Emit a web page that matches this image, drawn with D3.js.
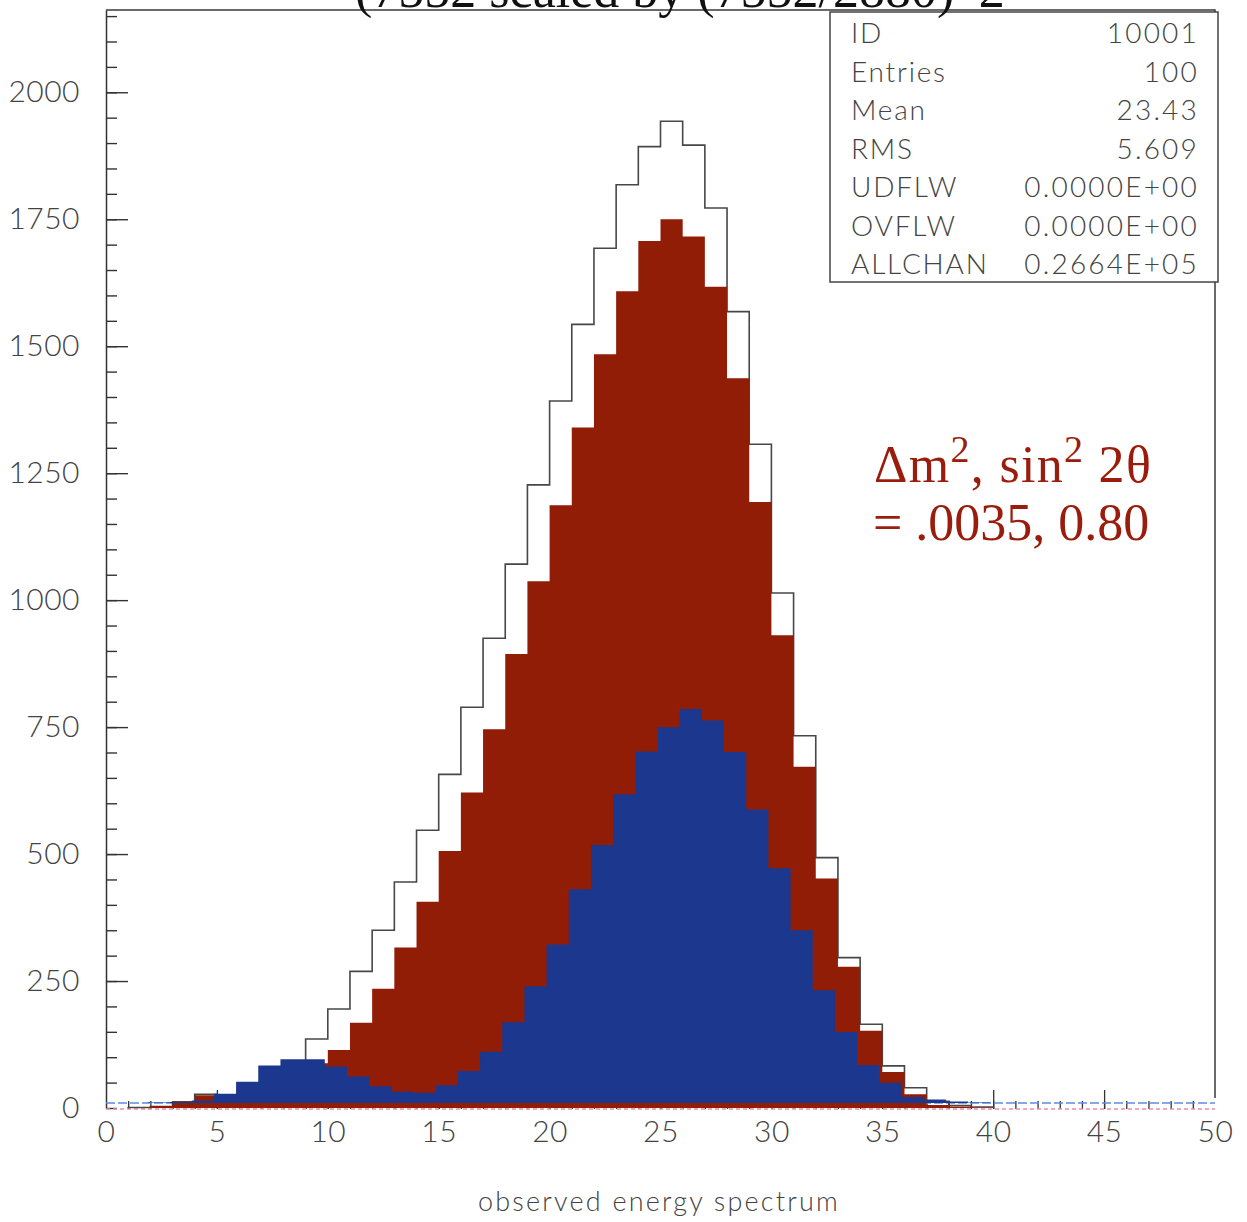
<!DOCTYPE html>
<html>
<head>
<meta charset="utf-8">
<script src="https://cdn.jsdelivr.net/npm/d3@7"></script>
<style>
  body { margin: 0; background: #fff; }
  svg { display: block; }
</style>
</head>
<body>
<script>
// bin i covers [i, i+1) of the observed energy
const binStarts = d3.range(0, 50)

const noOscCounts = [0, 1, 3, 12, 27, 25, 40, 60, 88, 136,
  195, 269, 350, 445, 547, 657, 789, 925, 1071, 1227,
  1392, 1543, 1693, 1818, 1893, 1943, 1896, 1772, 1568, 1307,
  1014, 733, 493, 296, 165, 83, 40, 13, 5, 2,
  0, 0, 0, 0, 0, 0, 0, 0, 0, 0]

const redCounts = [0, 0, 4, 11, 25, 26, 40, 55, 70, 88,
  114, 168, 235, 316, 406, 506, 621, 746, 894, 1037,
  1187, 1340, 1484, 1608, 1707, 1750, 1716, 1617, 1437, 1193,
  931, 672, 452, 278, 152, 71, 27, 6, 3, 1,
  0, 0, 0, 0, 0, 0, 0, 0, 0, 0]

const blueCounts = [0, 0, 1, 2, 5, 18, 42, 74, 86, 86,
  72, 52, 33, 22, 20, 35, 63, 101, 159, 230,
  312, 421, 508, 608, 692, 740, 776, 753, 691, 578,
  462, 340, 222, 140, 75, 40, 12, 7, 3, 1,
  0, 0, 0, 0, 0, 0, 0, 0, 0, 0]

const yTicks = [0, 250, 500, 750, 1000, 1250, 1500, 1750, 2000]
const xTicks = [0, 5, 10, 15, 20, 25, 30, 35, 40, 45, 50]

const statNames = ['ID', 'Entries', 'Mean', 'RMS', 'UDFLW', 'OVFLW', 'ALLCHAN']
const statValues = ['10001', '100', '23.43', '5.609', '0.0000E+00', '0.0000E+00', '0.2664E+05']

const title = '(7552 scaled by (7552/2880)^2'
const xTitle = 'observed energy spectrum'

const width = 1247
const height = 1222
const plotLeft = 106
const plotRight = 1215
const plotTop = 10
const plotBottom = 1108

const pawFont = 'Lato, "DejaVu Sans", sans-serif'
const textGrey = '#434343'
const redFill = '#911d06'
const blueFill = '#1b388e'

const x = d3.scaleLinear().domain([0, 50]).range([plotLeft, plotRight])
const y = d3.scaleLinear().domain([0, 2162]).range([plotBottom, plotTop])

const svg = d3.select('body').append('svg')
  .attr('width', width)
  .attr('height', height)

svg.append('rect').attr('width', width).attr('height', height).attr('fill', '#fff')

// frame top and right edge (left edge comes from the y axis)
svg.append('path')
  .attr('d', `M${plotLeft},${plotTop}H${plotRight}V${plotBottom - 10}`)
  .attr('fill', 'none')
  .attr('stroke', '#3a3a3a')
  .attr('stroke-width', 1.5)

// y axis, ticks pointing into the plot
svg.append('g')
  .attr('transform', `translate(${plotLeft},0)`)
  .attr('color', '#333')
  .call(d3.axisRight(y).tickValues(d3.range(0, 2151, 50)).tickSize(11).tickSizeOuter(0).tickFormat(''))
  .call(g => g.selectAll('line').attr('stroke-width', 1.4))
  .call(g => g.select('.domain').attr('stroke-width', 1.5))

svg.append('g')
  .attr('transform', `translate(${plotLeft},0)`)
  .attr('color', '#333')
  .call(d3.axisRight(y).tickValues(yTicks.slice(1)).tickSize(22).tickFormat(''))
  .call(g => g.select('.domain').remove())
  .call(g => g.selectAll('line').attr('stroke-width', 1.4))

svg.append('g')
  .attr('transform', `translate(${plotLeft},0)`)
  .call(d3.axisLeft(y).tickValues(yTicks).tickSize(0).tickPadding(26).tickFormat(d3.format('d')))
  .call(g => g.select('.domain').remove())
  .call(g => g.selectAll('text')
    .attr('font-family', pawFont)
    .attr('font-weight', 300)
    .attr('font-size', 30)
    .attr('letter-spacing', 0.5)
    .attr('fill', textGrey))

// x axis ticks pointing up from the bottom
svg.append('g')
  .attr('transform', `translate(0,${plotBottom + 1})`)
  .attr('color', '#333')
  .call(d3.axisTop(x).tickValues(d3.range(1, 50)).tickSize(8).tickFormat(''))
  .call(g => g.select('.domain').remove())
  .call(g => g.selectAll('line').attr('stroke-width', 1.3))

svg.append('g')
  .attr('transform', `translate(0,${plotBottom + 1})`)
  .attr('color', '#333')
  .call(d3.axisTop(x).tickValues(xTicks.slice(1, -1)).tickSize(19).tickFormat(''))
  .call(g => g.select('.domain').remove())
  .call(g => g.selectAll('line').attr('stroke-width', 1.3))

svg.append('g')
  .attr('transform', `translate(0,${plotBottom})`)
  .call(d3.axisBottom(x).tickValues(xTicks).tickSize(0).tickPadding(13))
  .call(g => g.select('.domain').remove())
  .call(g => g.selectAll('text')
    .attr('font-family', pawFont)
    .attr('font-weight', 300)
    .attr('font-size', 30)
    .attr('letter-spacing', 0.5)
    .attr('fill', textGrey))

// empty-content baselines of the two coloured histograms
svg.append('line')
  .attr('x1', x(0)).attr('x2', x(50))
  .attr('y1', y(0) - 5).attr('y2', y(0) - 5)
  .attr('stroke', '#5b8fdc')
  .attr('stroke-width', 1.6)
  .attr('stroke-dasharray', '9 3')

svg.append('line')
  .attr('x1', x(0)).attr('x2', x(50))
  .attr('y1', y(0) + 1).attr('y2', y(0) + 1)
  .attr('stroke', '#f08aa0')
  .attr('stroke-width', 1.4)
  .attr('stroke-dasharray', '4 3')

const steps = (counts) => {
  const pts = binStarts.map(i => ({ e: i, v: counts[i] }))
  pts.push({ e: 50, v: counts[49] })
  return pts
}

// unoscillated spectrum, outline only
const filled = binStarts.filter(i => noOscCounts[i] > 0)
const firstFilled = d3.min(filled)
const lastFilled = d3.max(filled)
const outlinePts = [{ e: firstFilled, v: 0 }]
  .concat(filled.map(i => ({ e: i, v: noOscCounts[i] })))
  .concat([{ e: lastFilled + 1, v: noOscCounts[lastFilled] }, { e: lastFilled + 1, v: 0 }])

const outline = d3.line()
  .curve(d3.curveStepAfter)
  .x(d => x(d.e))
  .y(d => y(d.v))

svg.append('path')
  .attr('d', outline(outlinePts))
  .attr('fill', 'none')
  .attr('stroke', '#474747')
  .attr('stroke-width', 1.6)

const area = d3.area()
  .curve(d3.curveStepAfter)
  .x(d => x(d.e))
  .y0(y(0))
  .y1(d => y(d.v))

svg.append('path')
  .attr('d', area(steps(redCounts)))
  .attr('fill', redFill)

// the blue plate sits a few pixels off the red one in the print
svg.append('g')
  .attr('transform', 'translate(-3,-5)')
  .append('path')
  .attr('d', area(steps(blueCounts)))
  .attr('fill', blueFill)

// statistics box
const boxLeft = 830
const boxBottom = 282
svg.append('rect')
  .attr('x', boxLeft)
  .attr('y', plotTop + 2)
  .attr('width', plotRight + 3 - boxLeft)
  .attr('height', boxBottom - plotTop - 2)
  .attr('fill', '#fff')
  .attr('stroke', '#444')
  .attr('stroke-width', 1.5)

const rowY = d3.scalePoint().domain(statNames).range([43, 274])

svg.append('g').selectAll('text')
  .data(statNames)
  .enter().append('text')
    .attr('x', 851)
    .attr('y', d => rowY(d))
    .attr('font-family', pawFont)
    .attr('font-weight', 300)
    .attr('font-size', 28)
    .attr('letter-spacing', 1.8)
    .attr('fill', textGrey)
    .text(d => d)

svg.append('g').selectAll('text')
  .data(statValues)
  .enter().append('text')
    .attr('x', 1199)
    .attr('y', (d, i) => rowY(statNames[i]))
    .attr('text-anchor', 'end')
    .attr('font-family', pawFont)
    .attr('font-weight', 300)
    .attr('font-size', 28)
    .attr('letter-spacing', 2.2)
    .attr('fill', textGrey)
    .text(d => d)

// title, cut by the top of the page as in the print
svg.append('text')
  .attr('x', 355)
  .attr('y', 7)
  .attr('font-family', '"Liberation Serif", "Times New Roman", serif')
  .attr('font-size', 52)
  .attr('fill', '#111')
  .text(title)

// oscillation parameters
const note = svg.append('text')
  .attr('font-family', '"Liberation Serif", "Times New Roman", serif')
  .attr('font-size', 52)
  .attr('fill', '#9a1c0c')

const line1 = note.append('tspan').attr('x', 874).attr('y', 482).attr('letter-spacing', 1.3)
line1.append('tspan').text('\u0394m')
line1.append('tspan').attr('font-size', 38).attr('dy', -20).text('2')
line1.append('tspan').attr('dy', 20).text(', sin')
line1.append('tspan').attr('font-size', 38).attr('dy', -20).text('2')
line1.append('tspan').attr('dy', 20).text(' 2\u03b8')

note.append('tspan').attr('x', 873).attr('y', 540).text('= .0035, 0.80')

svg.append('text')
  .attr('x', 659)
  .attr('y', 1211)
  .attr('text-anchor', 'middle')
  .attr('font-family', pawFont)
  .attr('font-weight', 300)
  .attr('font-size', 27)
  .attr('letter-spacing', 2.2)
  .attr('fill', textGrey)
  .text(xTitle)
</script>
</body>
</html>
